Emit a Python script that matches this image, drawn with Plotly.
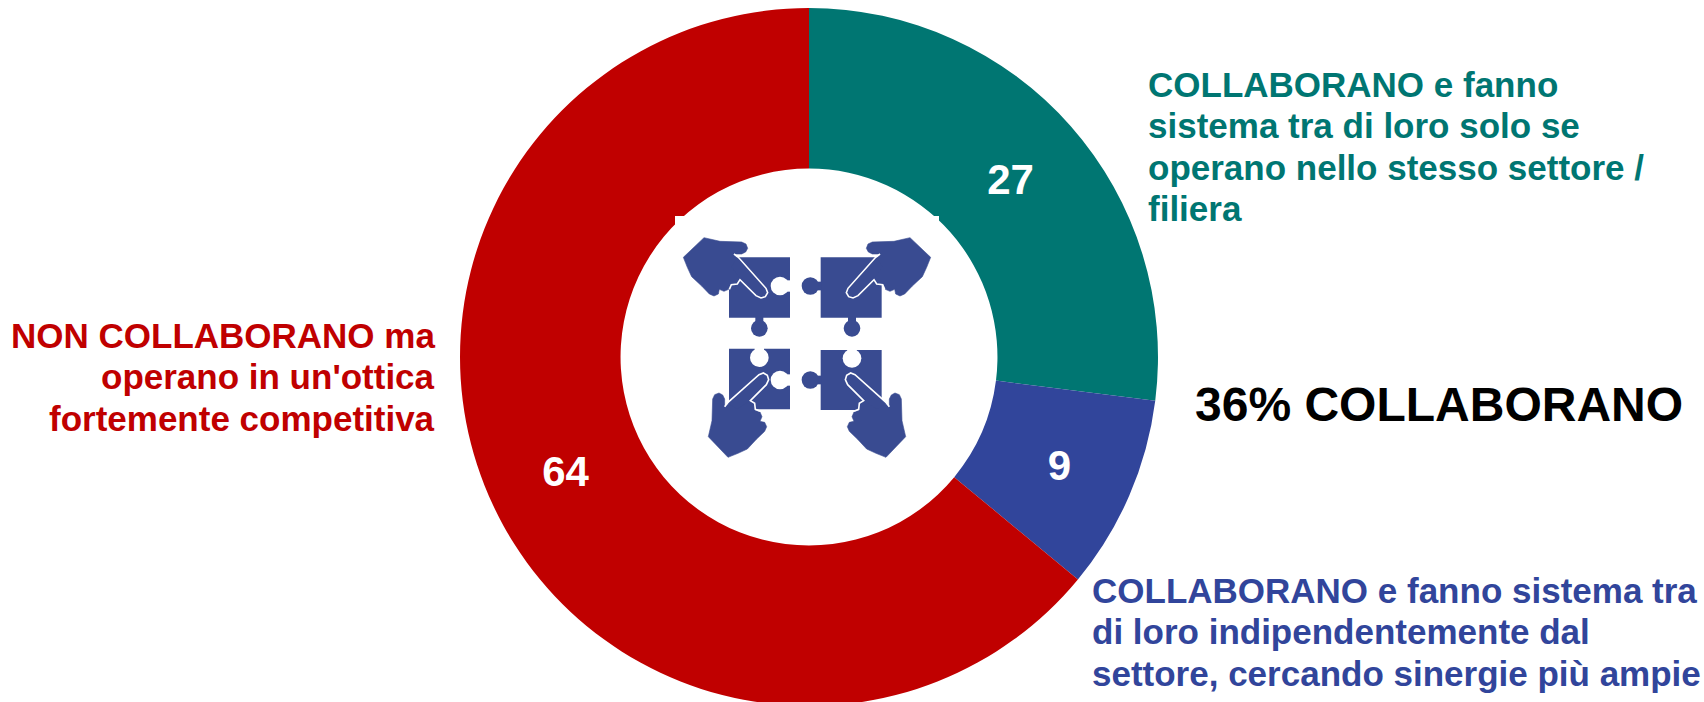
import plotly.graph_objects as go

categories = ["COLLABORANO solo stesso settore", "COLLABORANO indipendentemente", "NON COLLABORANO"]
values = [27, 9, 64]
colors = ["#007672", "#31459B", "#C00000"]
teal_lines = ["COLLABORANO e fanno", "sistema tra di loro solo se", "operano nello stesso settore /", "filiera"]
blue_lines = ["COLLABORANO e fanno sistema tra", "di loro indipendentemente dal", "settore, cercando sinergie più ampie"]
red_lines = ["NON COLLABORANO ma", "operano in un'ottica", "fortemente competitiva"]
total_label = "36% COLLABORANO"

W, H = 1704, 706
FONT = "Liberation Sans"
ICON = "#394B91"


def px(x):
    return x / W


def py(y):
    return 1 - y / H


# icon coordinates are given in a 3x local grid
def z(p):
    return (600 + p[0] / 3, 180 + p[1] / 3)


def t_id(p):
    return p


def t_tr(p):
    return (1242 - p[0], p[1])


def t_bl(p):
    return (p[1] + 152, 1082 - p[0])


def t_br(p):
    return (1242 - (p[1] + 152), 1082 - p[0])


def path(points, transform=t_id, close=True):
    pts = [z(transform(p)) for p in points]
    d = "M" + " L".join(f"{px(x):.5f},{py(y):.5f}" for x, y in pts)
    return d + (" Z" if close else "")


shapes = []


def poly(points, transform=t_id, fill=ICON):
    shapes.append(dict(type="path", path=path(points, transform), xref="paper", yref="paper",
                       fillcolor=fill, line=dict(width=0.6, color=fill), layer="above"))


def stroke(points, transform=t_id, color="white", width=1.6):
    shapes.append(dict(type="path", path=path(points, transform, close=False), xref="paper", yref="paper",
                       line=dict(width=width, color=color), layer="above"))


def rect(x0, y0, x1, y1, fill=ICON):
    a, b = z((x0, y0)), z((x1, y1))
    shapes.append(dict(type="rect", xref="paper", yref="paper", x0=px(a[0]), x1=px(b[0]),
                       y0=py(a[1]), y1=py(b[1]), fillcolor=fill, line=dict(width=0), layer="above"))


def circ(cx, cy, r, fill=ICON):
    a, b = z((cx - r, cy - r)), z((cx + r, cy + r))
    shapes.append(dict(type="circle", xref="paper", yref="paper", x0=px(a[0]), x1=px(b[0]),
                       y0=py(a[1]), y1=py(b[1]), fillcolor=fill, line=dict(width=0), layer="above"))


# white corners of the icon's box
rect(225, 108, 252, 135, "white")
rect(990, 108, 1017, 135, "white")

# puzzle pieces
rect(387, 232, 570, 413)
rect(662, 232, 845, 413)
rect(387, 506, 570, 688)
rect(662, 510, 845, 690)
# bottom tabs
for cx in (478, 756):
    rect(cx - 12, 410, cx + 12, 430)
    circ(cx, 445, 25)
# left tabs
for cy in (318, 600):
    rect(640, cy - 13, 664, cy + 13)
    circ(631, cy, 26)
# right notches
for cy in (318, 600):
    circ(540, cy, 28, "white")
    rect(555, cy - 17, 572, cy + 17, "white")
# top notches
for cx, cy in ((478, 533), (756, 535)):
    circ(cx, cy, 28, "white")
    rect(cx - 14, cy - 30, cx + 14, cy - 12, "white")

hand = [(250, 232), (262, 262), (275, 290), (305, 318), (328, 342), (342, 348), (355, 342), (358, 328),
        (372, 334), (386, 328), (392, 314), (410, 312), (420, 298), (440, 280), (405, 225), (400, 222),
        (425, 222), (437, 216), (443, 205), (438, 192), (425, 186), (360, 184), (312, 173)]
finger = [(412, 232), (498, 325), (503, 338), (496, 350), (483, 354), (468, 347), (420, 297), (395, 260)]
edge = [(402, 222), (415, 232), (498, 325), (503, 338), (496, 350), (483, 354), (468, 347), (420, 299),
        (412, 312), (394, 314), (388, 328)]

for tr in (t_id, t_tr, t_bl, t_br):
    poly(hand, tr)
    poly(finger, tr)
    stroke(edge, tr)

fig = go.Figure(go.Pie(
    labels=categories, values=values, sort=False, direction="clockwise", rotation=0, hole=0.54,
    marker=dict(colors=colors, line=dict(width=0)),
    textinfo="value", textposition="inside", insidetextorientation="horizontal",
    insidetextfont=dict(family=FONT, size=42, color="white", weight="bold"),
    showlegend=False, hoverinfo="label+value",
    domain=dict(x=[460 / W, 1158 / W], y=[0, 698 / H]),
))


def note(lines, x, y, anchor, color, size, step=41.6):
    for i, line in enumerate(lines):
        fig.add_annotation(text=line, x=px(x), y=py(y + i * step), xref="paper", yref="paper",
                           xanchor=anchor, yanchor="middle", align=anchor, showarrow=False,
                           borderpad=0, borderwidth=0,
                           font=dict(family=FONT, size=size, color=color, weight="bold"))


note(teal_lines, 1148, 84, "left", colors[0], 35)
note(blue_lines, 1092, 590, "left", colors[1], 35)
note(red_lines, 435, 335, "right", colors[2], 35)
note([total_label], 1195, 404, "left", "#000000", 48)

fig.update_layout(width=W, height=H, margin=dict(l=0, r=0, t=0, b=0), autosize=False,
                  paper_bgcolor="white", plot_bgcolor="white", shapes=shapes)

fig.write_html("out.html", config=dict(displayModeBar=False),
               post_script="document.body.style.margin='0';document.body.style.overflow='hidden';"
                           "document.documentElement.style.overflow='hidden';")
